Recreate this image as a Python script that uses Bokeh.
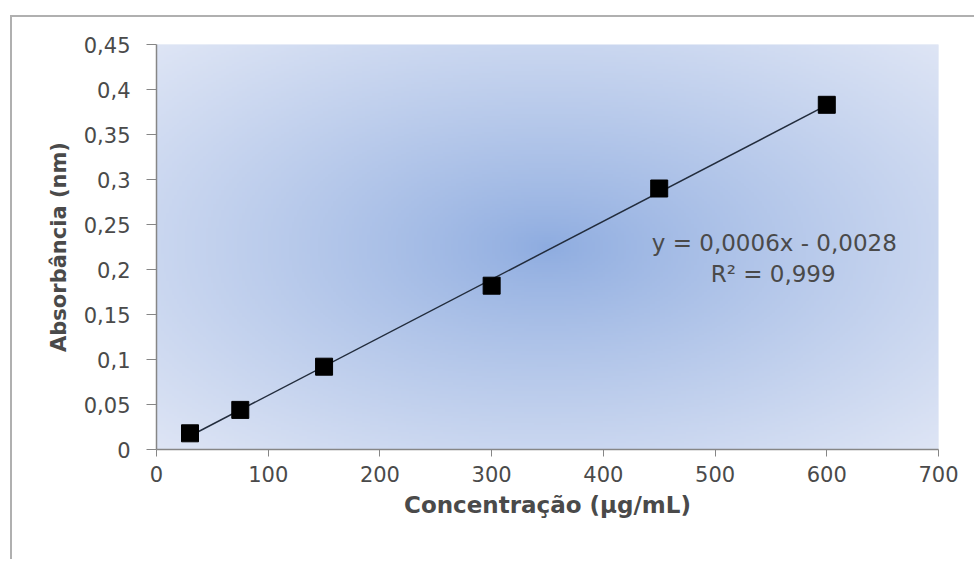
import numpy as np
from bokeh.plotting import figure
from bokeh.models import Range1d, FixedTicker, Label
from bokeh.embed import file_html
from bokeh.resources import INLINE

# Data
concentracao = [30, 75, 150, 300, 450, 600]
absorbancia = [0.018, 0.044, 0.092, 0.182, 0.290, 0.383]
x_ticks = [0, 100, 200, 300, 400, 500, 600, 700]
y_ticks = [0, 0.05, 0.1, 0.15, 0.2, 0.25, 0.3, 0.35, 0.4, 0.45]
y_tick_labels = ["0", "0,05", "0,1", "0,15", "0,2", "0,25", "0,3", "0,35", "0,4", "0,45"]
x_tick_labels = ["0", "100", "200", "300", "400", "500", "600", "700"]
equation = "y = 0,0006x - 0,0028"
r2_text = "R² = 0,999"

FONT = "DejaVu Sans"
TXT = "#4a4a4a"

# figure offset by CSS margin; border lines on top/left like the outer chart box
p = figure(width=964, height=544, output_backend="svg", toolbar_location=None,
           x_range=Range1d(0, 700), y_range=Range1d(0, 0.45),
           min_border_left=144, min_border_right=38, min_border_top=27, min_border_bottom=112,
           margin=(15, 0, 0, 10),
           styles={"border-top": "2px solid #b0b0b0", "border-left": "2px solid #b0b0b0"})
p.background_fill_color = "#dce4f4"
p.border_fill_color = "white"
p.outline_line_color = None
p.grid.visible = False

# radial gradient background of plot area
nx, ny = 300, 180
gx = np.linspace(-1, 1, nx)
gy = np.linspace(-1, 1, ny)
GX, GY = np.meshgrid(gx, gy)
r = np.clip(np.sqrt(GX**2 + GY**2) / np.sqrt(2), 0, 1)
c0 = np.array([142, 172, 224])
c1 = np.array([222, 229, 245])
t = r[..., None] ** 0.85
col = (c0 * (1 - t) + c1 * t).astype(np.uint32)
img = np.empty((ny, nx), dtype=np.uint32)
view = img.view(dtype=np.uint8).reshape((ny, nx, 4))
view[..., 0] = col[..., 0]
view[..., 1] = col[..., 1]
view[..., 2] = col[..., 2]
view[..., 3] = 255
p.image_rgba(image=[img], x=0, y=0, dw=700, dh=0.45)

# trendline
slope, intercept = np.polyfit(concentracao, absorbancia, 1)
xl = np.array([min(concentracao), max(concentracao)])
p.line(xl, slope * xl + intercept, line_color="#222c3c", line_width=1.5)
p.scatter(concentracao, absorbancia, marker="square", size=17, fill_color="black", line_color="black")

# axes
for ax in (p.xaxis[0], p.yaxis[0]):
    ax.axis_line_color = "#868686"
    ax.axis_line_width = 1.5
    ax.major_tick_line_color = "#868686"
    ax.minor_tick_line_color = None
    ax.major_tick_in = 0
    ax.major_label_text_font = FONT
    ax.major_label_text_font_size = "21px"
    ax.major_label_text_color = TXT
    ax.axis_label_text_font = FONT
    ax.axis_label_text_font_style = "bold"
    ax.axis_label_text_color = TXT

p.xaxis.ticker = FixedTicker(ticks=x_ticks)
p.xaxis.major_label_overrides = {v: s for v, s in zip(x_ticks, x_tick_labels)}
p.xaxis.major_tick_out = 7
p.xaxis.major_label_standoff = 9
p.xaxis.axis_label = "Concentração (µg/mL)"
p.xaxis.axis_label_text_font_size = "23px"
p.xaxis.axis_label_standoff = 7

p.yaxis.ticker = FixedTicker(ticks=y_ticks)
p.yaxis.major_label_overrides = {v: s for v, s in zip(y_ticks, y_tick_labels)}
p.yaxis.major_tick_out = 10
p.yaxis.major_label_standoff = 16
p.yaxis.axis_label = "Absorbância (nm)"
p.yaxis.axis_label_text_font_size = "21px"
p.yaxis.axis_label_standoff = 10

p.add_layout(Label(x=553, y=0.229, text=equation, text_align="center", text_baseline="middle",
                   text_font=FONT, text_font_size="23px", text_color=TXT))
p.add_layout(Label(x=552, y=0.195, text=r2_text, text_align="center", text_baseline="middle",
                   text_font=FONT, text_font_size="23px", text_color=TXT))

open("out.html", "w").write(file_html(p, INLINE))
